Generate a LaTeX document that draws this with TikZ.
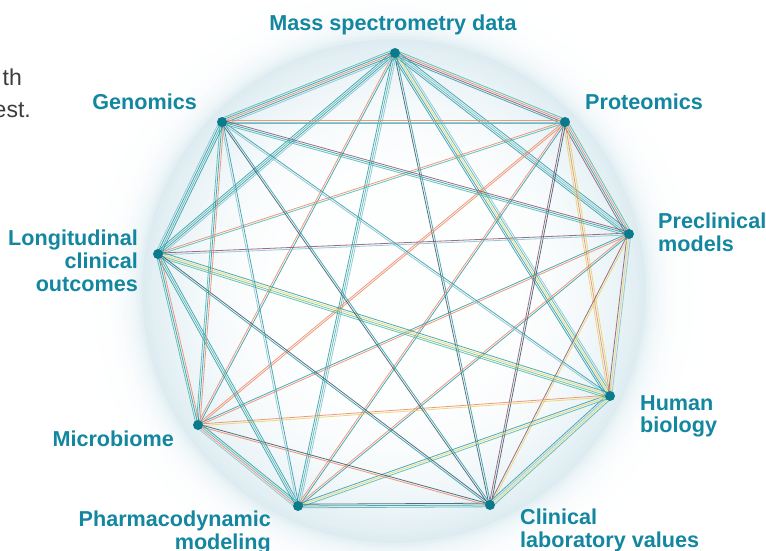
\documentclass[tikz,border=0pt]{standalone}
\usepackage{fontspec}
\setmainfont{Liberation Sans}
\usetikzlibrary{calc,backgrounds}
\definecolor{labc}{HTML}{1386A0}
\definecolor{dotc}{HTML}{0B7A8C}
\definecolor{halo}{HTML}{8FC0D2}
\definecolor{tealA}{HTML}{2F9AA6}
\definecolor{tealB}{HTML}{4DB8AE}
\definecolor{lblue}{HTML}{86C2D2}
\definecolor{orng}{HTML}{EE8866}
\definecolor{yell}{HTML}{E8D468}
\definecolor{plum}{HTML}{8A5670}
\definecolor{slate}{HTML}{3A5868}
\definecolor{grn}{HTML}{6CBE88}
\definecolor{grayt}{HTML}{3C3C3C}
\begin{document}
\begin{tikzpicture}[x=1pt,y=-1pt,
  dot/.style={circle,fill=dotc,inner sep=0pt,minimum size=10pt},
  lab/.style={font=\fontsize{21.6}{22.7}\selectfont\bfseries,text=labc,inner sep=0pt},
  linkline/.style={line width=0.8pt,opacity=0.85},
  side/.style={font=\fontsize{23}{28}\selectfont,text=grayt,inner sep=0pt}]
\useasboundingbox (0,0) rectangle (766,550);
\coordinate (C) at (394,291);
\node[dot] (n1) at (395,53) {};
\node[dot] (n2) at (565,122) {};
\node[dot] (n3) at (629,234) {};
\node[dot] (n4) at (610,396) {};
\node[dot] (n5) at (490,505) {};
\node[dot] (n6) at (298,506) {};
\node[dot] (n7) at (198,425) {};
\node[dot] (n8) at (158,254) {};
\node[dot] (n9) at (222,122) {};
\begin{pgfonlayer}{background}
\foreach \r in {312,309,...,120}{
  \pgfmathsetmacro\t{\r>252 ? 30*exp(-(max(\r,252)-252)/13) : 30*(min(\r,252)/252)^4}
  \fill[halo!\t!white] (C) circle[radius=\r];
}
\foreach \a/\b/\n/\cols in {
 1/2/4/{tealA,plum,orng,tealB},
 1/3/4/{tealA,tealB,lblue,tealA},
 1/4/5/{tealA,tealA,yell,tealB,lblue},
 1/5/2/{slate,tealA},
 1/6/3/{tealA,tealB,lblue},
 1/7/2/{orng,tealA},
 1/8/4/{tealA,tealB,tealA,lblue},
 1/9/5/{tealB,tealA,orng,tealA,lblue},
 2/3/4/{plum,tealA,orng,tealB},
 2/4/3/{yell,orng,yell},
 2/5/2/{plum,slate},
 2/6/2/{orng,tealA},
 2/7/2/{orng,orng},
 2/8/2/{orng,tealB},
 2/9/3/{orng,lblue,tealB},
 3/4/3/{plum,yell,lblue},
 3/5/2/{plum,yell},
 3/6/2/{orng,tealA},
 3/7/2/{tealA,orng},
 3/8/2/{plum,lblue},
 3/9/3/{plum,tealA,tealB},
 4/5/4/{tealA,lblue,yell,tealB},
 4/6/3/{tealA,yell,tealB},
 4/7/2/{orng,yell},
 4/8/4/{tealA,yell,grn,tealB},
 4/9/2/{tealA,lblue},
 5/6/3/{slate,tealA,tealB},
 5/7/2/{slate,orng},
 5/8/2/{slate,tealA},
 5/9/2/{tealA,slate},
 6/7/4/{tealA,tealB,orng,lblue},
 6/8/3/{tealA,tealB,tealA},
 6/9/2/{tealA,lblue},
 7/8/3/{orng,tealA,tealB},
 7/9/3/{orng,tealA,tealB},
 8/9/4/{tealA,tealB,tealA,lblue}}{
  \foreach \c [count=\k] in \cols {
    \pgfmathsetmacro\o{(\k-(\n+1)/2)*1.8}
    \draw[linkline,\c] ($(n\a.center)!\o pt!90:(n\b.center)$) -- ($(n\b.center)!\o pt!-90:(n\a.center)$);
  }
}
\end{pgfonlayer}
\node[lab,anchor=north] (t1) at (393,14.5) {Mass spectrometry data};
\node[lab,anchor=north east] (t9) at (197,94) {Genomics};
\node[lab,anchor=north west] (t2) at (585,94) {Proteomics};
\node[lab,anchor=north west,align=left] (t3) at (658,212.5) {Preclinical\\models};
\node[lab,anchor=north east,align=right] (t8) at (138,230) {Longitudinal\\clinical\\outcomes};
\node[lab,anchor=north east] (t7) at (174,431) {Microbiome};
\node[lab,anchor=north west,align=left] (t4) at (640,395) {Human\\biology};
\node[lab,anchor=north east,align=right] (t6) at (271,511) {Pharmacodynamic\\modeling};
\node[lab,anchor=north west,align=left] (t5) at (520,509) {Clinical\\laboratory values};
\node[side,anchor=base east] (s1) at (22,85) {th};
\node[side,anchor=base east] (s2) at (31,117) {est.};
\end{tikzpicture}
\end{document}
